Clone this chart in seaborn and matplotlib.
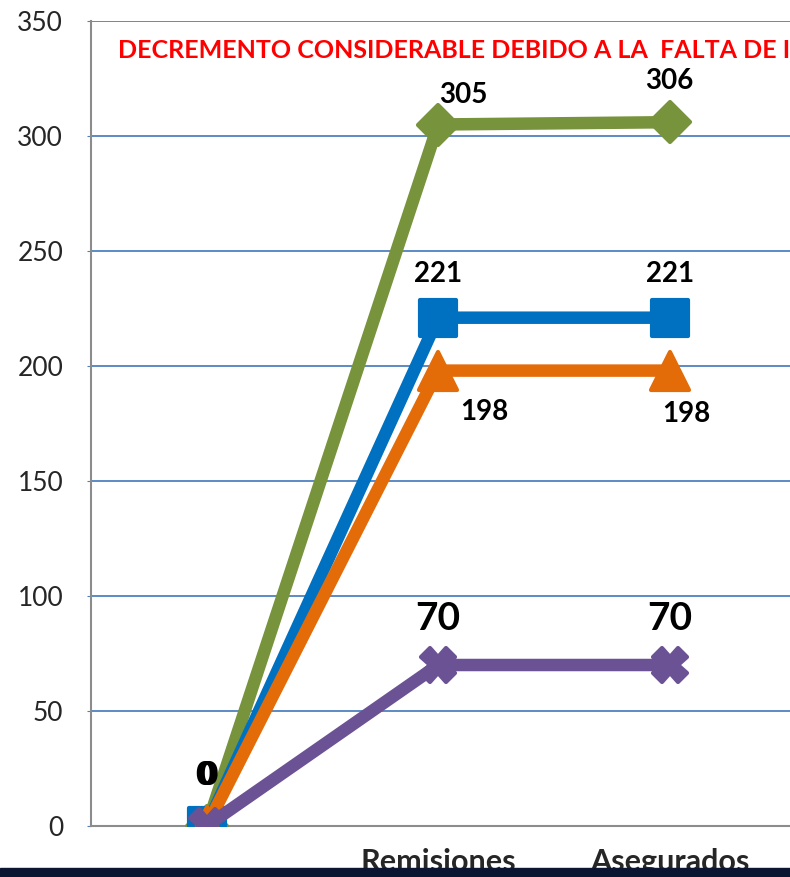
import numpy as np
import pandas as pd
import seaborn as sns
import matplotlib.pyplot as plt
from matplotlib.patches import Rectangle
from matplotlib.markers import MarkerStyle

categories = ["", "Remisiones", "Asegurados"]
verde = [0, 305, 306]
azul = [0, 221, 221]
naranja = [0, 198, 198]
morado = [0, 70, 70]

sns.set_style("white")
plt.rcParams['font.family'] = ['Lato', 'DejaVu Sans']

fig = plt.figure(figsize=(7.9, 8.77), dpi=100)
ax = fig.add_axes([91 / 790, 51 / 877, 699 / 790, 805 / 877])

x = np.arange(len(categories))
series = [
    (verde, "#77933C", "D", 20),
    (azul, "#0070C0", "s", 26),
    (naranja, "#E36C09", "^", 27),
    (morado, "#6B5294", "X", 24),
]
for vals, color, mk, ms in series:
    df = pd.DataFrame({"x": x, "y": vals})
    sns.lineplot(data=df, x="x", y="y", ax=ax, color=color, linewidth=9,
                 marker=MarkerStyle(mk, joinstyle="round"), markersize=ms,
                 markeredgecolor=color, markeredgewidth=3, zorder=3)

# data labels
lbl = dict(fontweight="bold", color="black", ha="center", va="center", zorder=5)
ax.text(1.11, 318, "305", fontsize=20, **lbl)
ax.text(2.0, 324, "306", fontsize=20, **lbl)
ax.text(1.0, 240, "221", fontsize=20, **lbl)
ax.text(2.0, 240, "221", fontsize=20, **lbl)
ax.text(1.2, 180, "198", fontsize=20, **lbl)
ax.text(2.07, 179, "198", fontsize=20, **lbl)
ax.text(1.0, 90, "70", fontsize=28, **lbl)
ax.text(2.0, 90, "70", fontsize=28, **lbl)
for dx in (-0.008, 0.0, 0.008):
    ax.text(dx, 22, "0", fontsize=23, **lbl)

fig.text(118 / 790, 1 - 50 / 877,
         "DECREMENTO CONSIDERABLE DEBIDO A LA  FALTA DE INSUMOS",
         color="#FF0000", fontsize=18, fontweight="bold",
         ha="left", va="center")

ax.set_xlim(-0.5, 2.52)
ax.set_ylim(0, 350)
ax.set_yticks(np.arange(0, 351, 50))
ax.set_xticks(x)
ax.set_xticklabels(categories, fontsize=22, fontweight="bold")
ax.tick_params(axis="x", length=0, pad=16)
ax.tick_params(axis="y", labelsize=19, length=3, color="#4F81BD", pad=17, left=True)
ax.set_xlabel("")
ax.set_ylabel("")
ax.grid(axis="y", color="#4F81BD", linewidth=1.3)
ax.set_axisbelow(True)
for s in ["top", "right"]:
    ax.spines[s].set_visible(False)
ax.spines["left"].set_color("#8C8C8C")
ax.spines["bottom"].set_color("#8C8C8C")
ax.spines["left"].set_linewidth(1.5)
ax.spines["bottom"].set_linewidth(1.5)

fig.add_artist(Rectangle((0, 0), 1, 9 / 877, transform=fig.transFigure,
                         color="#0B1633", zorder=10))

fig.savefig("out.png", dpi=100)
